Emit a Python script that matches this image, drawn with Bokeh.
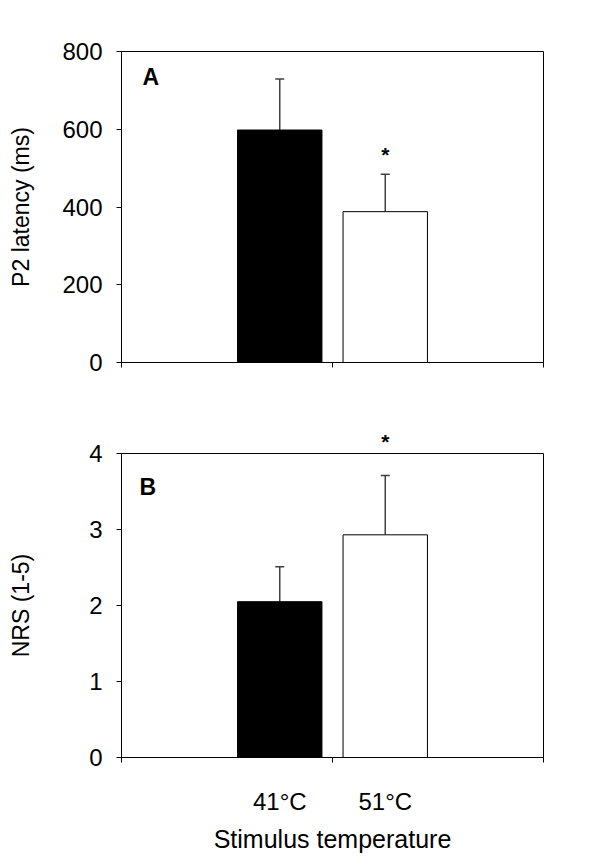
from bokeh.plotting import figure
from bokeh.models import (ColumnDataSource, Range1d, LinearAxis, FixedTicker,
                          Whisker, TeeHead, Label)
from bokeh.layouts import column
from bokeh.embed import file_html
from bokeh.resources import INLINE

# ---- data ----
temps = ["41°C", "51°C"]
bar_colors = ["black", "white"]

p2_latency = [598, 388]
p2_latency_err = [131, 96]
p2_sig = ["", "*"]
p2_ticks = [0, 200, 400, 600, 800]

nrs = [2.05, 2.93]
nrs_err = [0.46, 0.78]
nrs_sig = ["", "*"]
nrs_ticks = [0, 1, 2, 3, 4]

FONT = "Liberation Sans"

# category slots: each category occupies one unit, with one unit of padding on each side
xpos = [i + 0.5 for i in range(len(temps))]
X0, X1 = -1, len(temps) + 1


def panel(vals, errs, marks, yticks, ylabel, ylab_standoff, letter, letter_x, letter_y,
          mark_offset, marks_above, w, h, borders, show_x):
    ups = [v + e for v, e in zip(vals, errs)]
    src = ColumnDataSource(dict(x=xpos, v=vals, up=ups, c=bar_colors))
    p = figure(x_range=Range1d(X0, X1),
               y_range=Range1d(yticks[0], yticks[-1]), width=w, height=h,
               output_backend="svg", toolbar_location=None, x_axis_location=None,
               min_border_left=borders[0], min_border_right=borders[1],
               min_border_top=borders[2], min_border_bottom=borders[3])
    p.xgrid.grid_line_color = None
    p.ygrid.grid_line_color = None
    p.outline_line_color = "black"
    p.outline_line_width = 1
    p.background_fill_color = "white"
    p.border_fill_color = "white"

    p.vbar(x="x", top="v", width=0.8, fill_color="c", line_color="black",
           line_width=1, source=src)
    p.add_layout(Whisker(base="x", lower="v", upper="up", source=src,
                         line_color="#404040", line_width=1.5,
                         upper_head=TeeHead(size=9, line_color="#404040", line_width=1.5),
                         lower_head=None))

    mark_x = [x for x, m in zip(xpos, marks) if m]
    if marks_above:
        # significance marks that sit above the frame: an unlined axis on top
        ma = LinearAxis(ticker=FixedTicker(ticks=mark_x, minor_ticks=[]),
                        major_label_overrides={x: m for x, m in zip(xpos, marks) if m},
                        axis_line_color=None, major_tick_line_color=None,
                        minor_tick_line_color=None, major_tick_in=0, major_tick_out=0,
                        major_label_standoff=1,
                        major_label_text_font=FONT, major_label_text_font_size="21px",
                        major_label_text_font_style="bold",
                        major_label_text_color="black")
        p.add_layout(ma, "above")
    else:
        for x, u, m in zip(xpos, ups, marks):
            if m:
                p.add_layout(Label(x=x, y=u, y_offset=mark_offset, text=m,
                                   text_align="center", text_baseline="middle",
                                   text_font=FONT, text_font_size="21px",
                                   text_font_style="bold", text_color="black"))

    # y axis
    ya = p.yaxis[0]
    ya.ticker = FixedTicker(ticks=yticks)
    ya.major_tick_in = 0
    ya.major_tick_out = 5
    ya.minor_tick_line_color = None
    ya.axis_line_color = "black"
    ya.major_tick_line_color = "black"
    ya.major_label_text_font = FONT
    ya.major_label_text_font_size = "24px"
    ya.major_label_text_color = "black"
    ya.major_label_standoff = 14
    ya.axis_label = ylabel
    ya.axis_label_text_font = FONT
    ya.axis_label_text_font_size = "23px"
    ya.axis_label_text_font_style = "normal"
    ya.axis_label_text_color = "black"
    ya.axis_label_standoff = ylab_standoff

    # x axis: tick marks at the frame edges and between the bars (minor ticks),
    # category labels under the bars (major ticks without marks)
    if show_x:
        ticker = FixedTicker(ticks=xpos, minor_ticks=[X0, (X0 + X1) / 2, X1])
    else:
        ticker = FixedTicker(ticks=[], minor_ticks=[X0, (X0 + X1) / 2, X1])
    xa = LinearAxis(ticker=ticker,
                    major_tick_line_color=None, major_tick_in=0, major_tick_out=0,
                    minor_tick_line_color="black", minor_tick_in=0, minor_tick_out=5,
                    axis_line_color="black",
                    major_label_standoff=25,
                    major_label_text_font=FONT, major_label_text_font_size="24px",
                    major_label_text_color="black")
    if show_x:
        xa.major_label_overrides = {x: t for x, t in zip(xpos, temps)}
        xa.axis_label = "Stimulus temperature"
        xa.axis_label_text_font = FONT
        xa.axis_label_text_font_size = "25px"
        xa.axis_label_text_font_style = "normal"
        xa.axis_label_text_color = "black"
        xa.axis_label_standoff = 7
    p.add_layout(xa, "below")

    p.add_layout(Label(x=letter_x, y=letter_y, text=letter,
                       text_font=FONT, text_font_size="23px", text_font_style="bold",
                       text_color="black", text_baseline="alphabetic"))
    return p


pA = panel(p2_latency, p2_latency_err, p2_sig, p2_ticks, "P2 latency (ms)", 25, "A",
           -0.8, 734, 20, False, 590, 400, (117, 42, 51, 38), False)
pB = panel(nrs, nrs_err, nrs_sig, nrs_ticks, "NRS (1-5)", 52, "B",
           -0.83, 3.555, 0, True, 590, 455, (121, 47, 53, 98), True)

layout = column(pA, pB)
open("out.html", "w").write(file_html(layout, INLINE))
